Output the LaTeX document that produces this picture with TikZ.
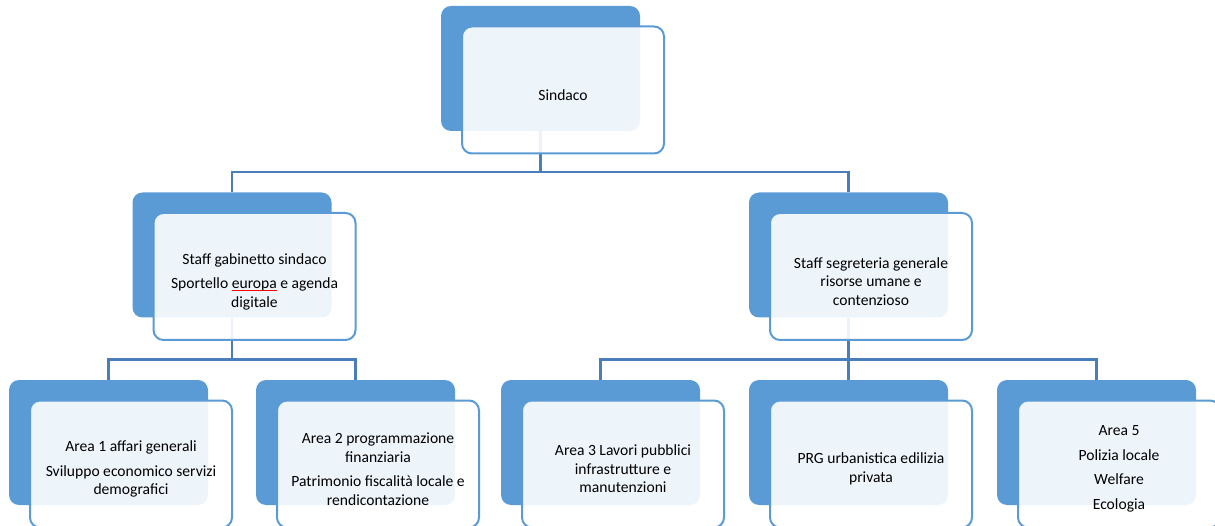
\documentclass[tikz,border=0pt]{standalone}
\usepackage{fontspec}
\setmainfont{Carlito}
\usetikzlibrary{backgrounds}

\definecolor{boxblue}{HTML}{5B9BD5}
\definecolor{linkblue}{HTML}{4A7EBB}

% red underline as the spell checker draws it
\newlength\redulwd
\newcommand*\redul[1]{\settowidth{\redulwd}{#1}%
	\rlap{\textcolor{red}{\rule[-2.5pt]{\redulwd}{1pt}}}#1}

\begin{document}
\begin{tikzpicture}[
	x=1pt, y=-1pt,
	backbox/.style={draw=none, fill=boxblue, rounded corners=10pt,
		minimum width=199pt, minimum height=125pt, inner sep=0pt},
	frontbox/.style={draw=boxblue, line width=2pt, fill=white, fill opacity=0.9,
		rounded corners=10pt, minimum width=202pt, minimum height=127pt, inner sep=0pt},
	boxtext/.style={align=center, inner sep=0pt, font=\fontsize{15.6}{18.5}\selectfont},
	link/.style={draw=linkblue, line width=2.5pt}]

	% back box, front box, text; syntax: (name)(centre of back box){text}
	\def\orgbox(#1)(#2)#3{%
		\node[backbox] (#1B) at (#2) {};
		\node[frontbox] (#1F) at ([shift={(22.5,21.5)}]#1B.center) {};
		\node[boxtext] (#1) at ([yshift=-5pt]#1F.center) {#3};
	}

	\useasboundingbox (0,0) rectangle (1215,526);

	\orgbox(sindaco)(540.5,68.5){Sindaco}
	\orgbox(staffgab)(232,255){Staff gabinetto sindaco\\[6pt]
		Sportello \redul{europa} e agenda\\digitale}
	\orgbox(staffseg)(848.5,255){Staff segreteria generale\\risorse umane e\\contenzioso}

	\orgbox(area1)(108.5,442.5){Area 1 affari generali\\[6pt]
		Sviluppo economico servizi\\demografici}
	\orgbox(area2)(355.5,442.5){Area 2 programmazione\\finanziaria\\[6pt]
		Patrimonio fiscalità locale e\\rendicontazione}
	\orgbox(area3)(600.5,442.5){Area 3 Lavori pubblici\\infrastrutture e\\manutenzioni}
	\orgbox(prg)(848.5,442.5){PRG urbanistica edilizia\\privata}
	\orgbox(area5)(1096.5,442.5){Area 5\\[6pt]Polizia locale\\[6pt]Welfare\\[6pt]Ecologia}

	\begin{pgfonlayer}{background}
	\draw[link] (sindacoB.south) -- ++(0,41) -| (staffgabB.north);
	\draw[link] (sindacoB.south) -- ++(0,41) -| (staffsegB.north);

	\draw[link] (staffgabB.south) -- ++(0,42) -| (area1B.north);
	\draw[link] (staffgabB.south) -- ++(0,42) -| (area2B.north);

	\draw[link] (staffsegB.south) -- ++(0,42) -| (area3B.north);
	\draw[link] (staffsegB.south) -- (prgB.north);
	\draw[link] (staffsegB.south) -- ++(0,42) -| (area5B.north);
	\end{pgfonlayer}

\end{tikzpicture}
\end{document}
